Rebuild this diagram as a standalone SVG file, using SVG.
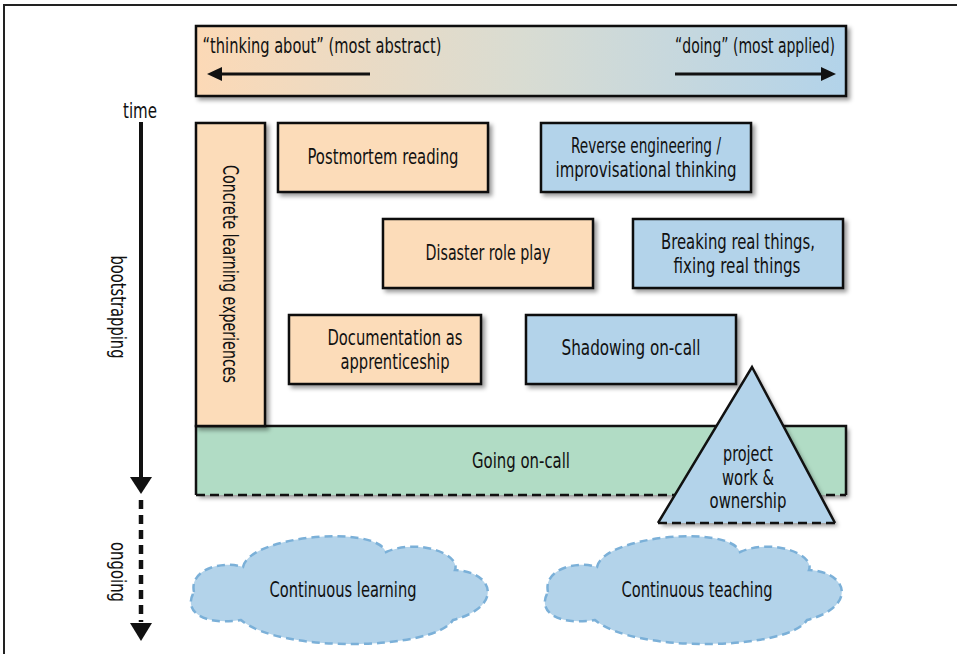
<svg xmlns="http://www.w3.org/2000/svg" width="957" height="654" viewBox="0 0 957 654">
<defs>
  <linearGradient id="grad" x1="0" y1="0" x2="1" y2="0">
    <stop offset="0" stop-color="#fcd9b6"/>
    <stop offset="0.5" stop-color="#d9dcd2"/>
    <stop offset="1" stop-color="#b2d3ea"/>
  </linearGradient>
  <filter id="sh" x="-10%" y="-10%" width="130%" height="130%">
    <feDropShadow dx="3" dy="3" stdDeviation="2" flood-color="#000" flood-opacity="0.4"/>
  </filter>
  <path id="cloud" d="M -149 2 C -154 -20 -122 -30 -100 -23 C -94 -54 32 -66 43 -38 C 75 -52 118 -36 112 -20 C 152 -18 160 17 110 30 C 92 60 -62 64 -102 30 C -142 36 -160 20 -149 2 Z"/>
</defs>
<style>
  text { font-family: "Liberation Sans Narrow", "DejaVu Sans Condensed", "Liberation Sans", sans-serif; font-size: 20.5px; fill: #111; text-anchor: middle; }
  .box { stroke: #111; stroke-width: 2.5; filter: url(#sh); }
  .peach { fill: #fcdcb9; }
  .blue { fill: #b3d3ea; }
  .green { fill: #b1dcc5; }
  .line { stroke: #111; stroke-width: 2.5; fill: none; }
  .dash { stroke: #111; stroke-width: 2.5; fill: none; stroke-dasharray: 9 5; }
  .cloud { fill: #b3d3ea; stroke: #7bb0d8; stroke-width: 2.5; stroke-dasharray: 8 5; }
</style>

<path d="M 4 654 L 4 5 L 957 5" fill="none" stroke="#222" stroke-width="2"/>

<g id="spectrum">
  <rect x="196" y="26" width="650" height="70" fill="url(#grad)" class="box"/>
  <text x="322" y="53" textLength="239" lengthAdjust="spacingAndGlyphs">“thinking about” (most abstract)</text>
  <text x="755" y="53" textLength="160" lengthAdjust="spacingAndGlyphs">“doing” (most applied)</text>
  <line x1="370" y1="74" x2="220" y2="74" stroke="#111" stroke-width="3"/>
  <polygon points="207,74 222,67 222,81" fill="#111"/>
  <line x1="675" y1="74" x2="823" y2="74" stroke="#111" stroke-width="3"/>
  <polygon points="836,74 821,67 821,81" fill="#111"/>
</g>

<g id="timeline">
  <text x="140" y="118" textLength="34" lengthAdjust="spacingAndGlyphs">time</text>
  <line x1="141" y1="122" x2="141" y2="479" stroke="#111" stroke-width="4"/>
  <polygon points="130,477 152,477 141,494" fill="#111"/>
  <line x1="141" y1="500" x2="141" y2="622" stroke="#111" stroke-width="4.5" stroke-dasharray="9 6"/>
  <polygon points="130,623 152,623 141,641" fill="#111"/>
  <text transform="translate(111,307) rotate(90)" textLength="103" lengthAdjust="spacingAndGlyphs">bootstrapping</text>
  <text transform="translate(111,572) rotate(90)" textLength="60" lengthAdjust="spacingAndGlyphs">ongoing</text>
</g>

<g id="going-on-call">
  <rect x="196" y="426" width="650" height="69" class="green" filter="url(#sh)"/>
  <path d="M 196 495 L 196 426 L 846 426 L 846 495" class="line"/>
  <line x1="196" y1="495" x2="846" y2="495" class="dash"/>
  <text x="521" y="468" textLength="98" lengthAdjust="spacingAndGlyphs">Going on-call</text>
</g>

<g id="concrete">
  <rect x="196" y="123" width="69" height="303" class="box peach"/>
  <text transform="translate(223,274) rotate(90)" textLength="218" lengthAdjust="spacingAndGlyphs">Concrete learning experiences</text>
</g>

<g id="postmortem">
  <rect x="278" y="123" width="210" height="69" class="box peach"/>
  <text x="383" y="164" textLength="151" lengthAdjust="spacingAndGlyphs">Postmortem reading</text>
</g>

<g id="reverse">
  <rect x="541" y="123" width="210" height="69" class="box blue"/>
  <text x="646" y="153" textLength="150" lengthAdjust="spacingAndGlyphs">Reverse engineering /</text>
  <text x="646" y="177" textLength="181" lengthAdjust="spacingAndGlyphs">improvisational thinking</text>
</g>

<g id="disaster">
  <rect x="383" y="219" width="210" height="69" class="box peach"/>
  <text x="488" y="260" textLength="125" lengthAdjust="spacingAndGlyphs">Disaster role play</text>
</g>

<g id="breaking">
  <rect x="633" y="219" width="210" height="69" class="box blue"/>
  <text x="738" y="249" textLength="154" lengthAdjust="spacingAndGlyphs">Breaking real things,</text>
  <text x="737" y="273" textLength="127" lengthAdjust="spacingAndGlyphs">fixing real things</text>
</g>

<g id="documentation">
  <rect x="289" y="315" width="192" height="69" class="box peach"/>
  <text x="395" y="345" textLength="135" lengthAdjust="spacingAndGlyphs">Documentation as</text>
  <text x="395" y="369" textLength="109" lengthAdjust="spacingAndGlyphs">apprenticeship</text>
</g>

<g id="shadowing">
  <rect x="526" y="315" width="210" height="69" class="box blue"/>
  <text x="631" y="355" textLength="139" lengthAdjust="spacingAndGlyphs">Shadowing on-call</text>
</g>

<g id="project">
  <polygon points="752,367 835,523 658,523" class="blue" filter="url(#sh)"/>
  <path d="M 658 523 L 752 367 L 835 523" class="line" stroke-linejoin="miter"/>
  <line x1="658" y1="523" x2="835" y2="523" class="dash"/>
  <text x="748" y="461" textLength="50" lengthAdjust="spacingAndGlyphs">project</text>
  <text x="748" y="485" textLength="52" lengthAdjust="spacingAndGlyphs">work &amp;</text>
  <text x="748" y="508" textLength="77" lengthAdjust="spacingAndGlyphs">ownership</text>
</g>

<g id="continuous-learning">
  <use href="#cloud" transform="translate(343,590)" class="cloud"/>
  <text x="343" y="597" textLength="147" lengthAdjust="spacingAndGlyphs">Continuous learning</text>
</g>

<g id="continuous-teaching">
  <use href="#cloud" transform="translate(697,590)" class="cloud"/>
  <text x="697" y="597" textLength="151" lengthAdjust="spacingAndGlyphs">Continuous teaching</text>
</g>
</svg>
